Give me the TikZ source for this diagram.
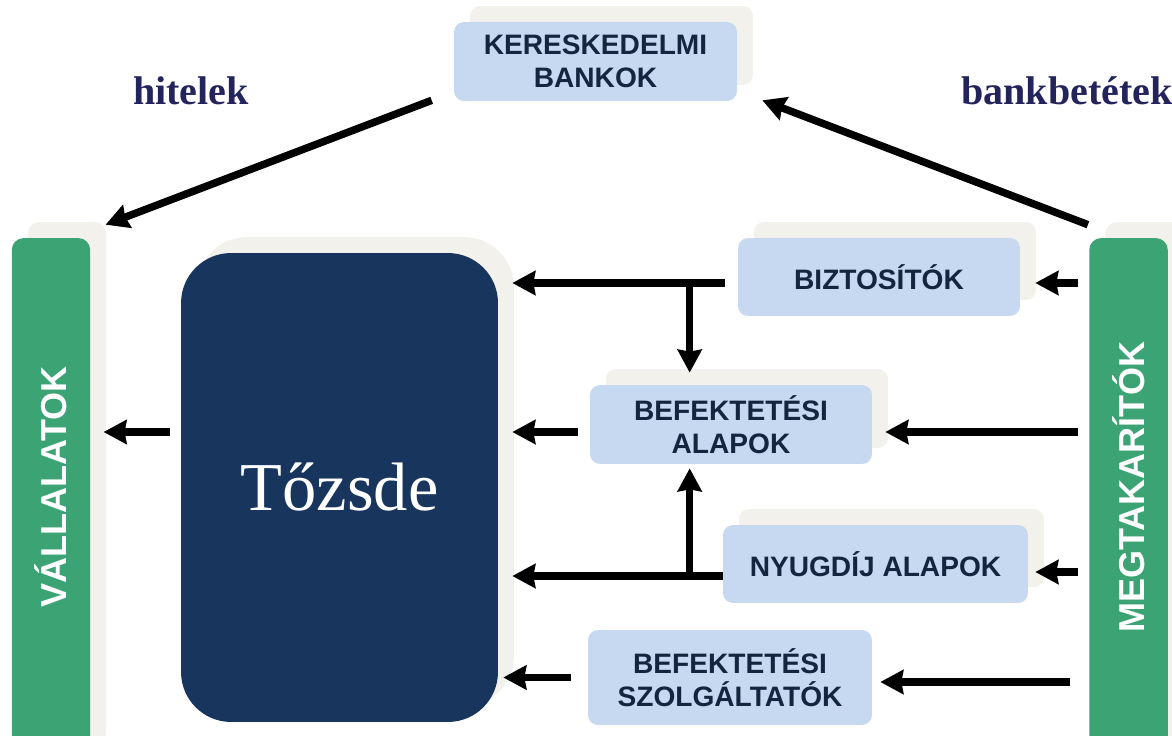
\documentclass[tikz,border=0pt]{standalone}
\usepackage{fontspec}
\usepackage{graphicx}
\setmainfont{Liberation Serif}
\setsansfont{Liberation Sans}
\usetikzlibrary{arrows.meta,calc,shadows}
\definecolor{boxblue}{HTML}{C6D9F1}
\definecolor{boxshade}{HTML}{F2F1EB}
\definecolor{sidegreen}{HTML}{3BA374}
\definecolor{tozsdeblue}{HTML}{18355E}
\definecolor{boxtext}{HTML}{14263F}
\definecolor{labelnavy}{HTML}{24245C}
\tikzset{
  shadebox/.style={drop shadow={shadow xshift=0.32cm,shadow yshift=0.32cm,fill=boxshade,opacity=1}},
  plaininst/.style={fill=boxblue,rounded corners=0.2cm,inner sep=0pt,text=boxtext,
    font=\sffamily\bfseries\fontsize{16}{19}\selectfont,align=center},
  inst/.style={shadebox,plaininst},
  side/.style={shadebox,fill=sidegreen,rounded corners=0.24cm,inner sep=0pt,
    minimum width=1.57cm,minimum height=10.44cm,text depth=0.48cm,text=white,
    font=\sffamily\bfseries\fontsize{20.5}{24}\selectfont},
  flow/.style={line width=0.15cm,-{Stealth[length=0.46cm,width=0.48cm,inset=0.04cm]}},
  moneylabel/.style={text=labelnavy,font=\bfseries\fontsize{22.8}{27}\selectfont}
}
\begin{document}
\begin{tikzpicture}[x=0.02cm,y=-0.02cm]
                \useasboundingbox (0,0) rectangle (1172,736);
                \node[inst,minimum width=5.66cm,minimum height=1.58cm] (bank) at (595.5,61.5) {KERESKEDELMI\\BANKOK};
                \node[side] (valla) at (51,499) {\rotatebox{90}{VÁLLALATOK}};
                \node[side] (megt) at (1128.5,499) {\rotatebox{90}{MEGTAKARÍTÓK}};
                \node[shadebox,fill=tozsdeblue,rounded corners=1cm,minimum width=6.34cm,minimum height=9.38cm,
                  text=white,font=\fontsize{39}{44}\selectfont] (tozsde) at (339.5,487.5) {Tőzsde};
                \node[inst,minimum width=5.64cm,minimum height=1.56cm] (biz) at (879,277) {BIZTOSÍTÓK};
                \node[inst,minimum width=5.64cm,minimum height=1.58cm] (alap) at (731,424.5) {BEFEKTETÉSI\\ALAPOK};
                \node[inst,minimum width=6.1cm,minimum height=1.56cm] (nyug) at (875.5,564) {NYUGDÍJ ALAPOK};
                \node[plaininst,minimum width=5.68cm,minimum height=1.9cm] (szolg) at (730,677.5) {BEFEKTETÉSI\\SZOLGÁLTATÓK};
                \node[moneylabel] (hitel) at (191,91) {hitelek};
                \node[moneylabel] (betet) at (1067,91) {bankbetétek};
                \draw[flow] ($(bank.south west)+(-22,-1)$) -- ($(valla.north east)+(15,-13)$);
                \draw[flow] ($(megt.north west)+(-1,-13)$) -- ($(bank.south east)+(25,-1)$);
                \coordinate (bizfork) at ($(biz.west)+(-48,6)$);
                \draw[flow] ($(biz.west)+(-13,6)$) -- ($(tozsde.east |- bizfork)+(14,0)$);
                \draw[flow] (bizfork) -- ($(alap.north -| bizfork)+(0,-12)$);
                \draw[flow] ($(megt.west |- bizfork)+(-11,0)$) -- ($(biz.east)+(15,6)$);
                \draw[flow] ($(alap.west)+(-12,7.5)$) -- ($(tozsde.east |- alap.west)+(14,7.5)$);
                \draw[flow] ($(megt.west |- alap.east)+(-11,7.5)$) -- ($(alap.east)+(13,7.5)$);
                \draw[flow] ($(tozsde.west |- alap.west)+(-11,7.5)$) -- ($(valla.east |- alap.west)+(13,7.5)$);
                \coordinate (nyugfork) at ($(nyug.west)+(-33,12)$);
                \draw[flow] ($(nyug.west)+(0,12)$) -- ($(tozsde.east |- nyugfork)+(14,0)$);
                \draw[flow] (nyugfork) -- ($(alap.south -| nyugfork)+(0,4)$);
                \draw[flow] ($(megt.west |- nyug.east)+(-11,8)$) -- ($(nyug.east)+(7,8)$);
                \draw[flow] ($(szolg.west)+(-17,0)$) -- ($(tozsde.east |- szolg.west)+(5,0)$);
                \draw[flow] ($(megt.west |- szolg.east)+(-19,4.5)$) -- ($(szolg.east)+(8,4.5)$);
            \end{tikzpicture}
\end{document}
